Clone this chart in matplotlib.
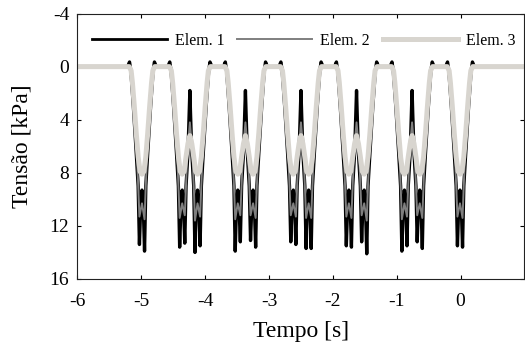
import numpy as np
import matplotlib
matplotlib.use('Agg')
import matplotlib.pyplot as plt

#------------------------------ data ------------------------------------#
# (time [s], stress [kPa]), one row per bogie
elem1 = [
    (-6.0, 0.0),
    (-5.215, 0), (-5.185, -0.35), (-5.165, 0.3), (-5.125, 3.0), (-5.08, 6.5), (-5.05, 9.0), (-5.03, 13.4), (-5.01, 10.5), (-4.99, 9.3), (-4.97, 10.5), (-4.95, 13.9), (-4.93, 9.0), (-4.90, 6.5), (-4.855, 3.0), (-4.815, 0.3), (-4.795, -0.35), (-4.765, 0),
    (-4.585, 0), (-4.555, -0.35), (-4.535, 0.3), (-4.495, 3.0), (-4.45, 6.5), (-4.42, 9.0), (-4.40, 13.6), (-4.38, 10.5), (-4.36, 9.3), (-4.34, 10.5), (-4.32, 13.3), (-4.30, 9.0), (-4.27, 6.5), (-4.25, 3.5), (-4.24, 1.8),
    (-4.23, 3.5), (-4.21, 6.5), (-4.18, 9.0), (-4.16, 14.0), (-4.14, 10.5), (-4.12, 9.3), (-4.10, 10.5), (-4.08, 13.5), (-4.06, 9.0), (-4.03, 6.5), (-3.985, 3.0), (-3.945, 0.3), (-3.925, -0.35), (-3.895, 0),
    (-3.715, 0), (-3.685, -0.35), (-3.665, 0.3), (-3.625, 3.0), (-3.58, 6.5), (-3.55, 9.0), (-3.53, 13.9), (-3.51, 10.5), (-3.49, 9.3), (-3.47, 10.5), (-3.45, 13.2), (-3.43, 9.0), (-3.40, 6.5), (-3.38, 3.5), (-3.37, 1.8),
    (-3.36, 3.5), (-3.34, 6.5), (-3.31, 9.0), (-3.29, 13.1), (-3.27, 10.5), (-3.25, 9.3), (-3.23, 10.5), (-3.21, 13.6), (-3.19, 9.0), (-3.16, 6.5), (-3.115, 3.0), (-3.075, 0.3), (-3.055, -0.35), (-3.025, 0),
    (-2.845, 0), (-2.815, -0.35), (-2.795, 0.3), (-2.755, 3.0), (-2.71, 6.5), (-2.68, 9.0), (-2.66, 13.2), (-2.64, 10.5), (-2.62, 9.3), (-2.60, 10.5), (-2.58, 13.4), (-2.56, 9.0), (-2.53, 6.5), (-2.51, 3.5), (-2.50, 1.8),
    (-2.49, 3.5), (-2.47, 6.5), (-2.44, 9.0), (-2.42, 13.7), (-2.40, 10.5), (-2.38, 9.3), (-2.36, 10.5), (-2.34, 13.7), (-2.32, 9.0), (-2.29, 6.5), (-2.245, 3.0), (-2.205, 0.3), (-2.185, -0.35), (-2.155, 0),
    (-1.975, 0), (-1.945, -0.35), (-1.925, 0.3), (-1.885, 3.0), (-1.84, 6.5), (-1.81, 9.0), (-1.79, 13.5), (-1.77, 10.5), (-1.75, 9.3), (-1.73, 10.5), (-1.71, 13.6), (-1.69, 9.0), (-1.66, 6.5), (-1.64, 3.5), (-1.63, 1.8),
    (-1.62, 3.5), (-1.60, 6.5), (-1.57, 9.0), (-1.55, 13.2), (-1.53, 10.5), (-1.51, 9.3), (-1.49, 10.5), (-1.47, 14.1), (-1.45, 9.0), (-1.42, 6.5), (-1.375, 3.0), (-1.335, 0.3), (-1.315, -0.35), (-1.285, 0),
    (-1.105, 0), (-1.075, -0.35), (-1.055, 0.3), (-1.015, 3.0), (-0.97, 6.5), (-0.94, 9.0), (-0.92, 13.9), (-0.90, 10.5), (-0.88, 9.3), (-0.86, 10.5), (-0.84, 13.5), (-0.82, 9.0), (-0.79, 6.5), (-0.77, 3.5), (-0.76, 1.8),
    (-0.75, 3.5), (-0.73, 6.5), (-0.70, 9.0), (-0.68, 13.2), (-0.66, 10.5), (-0.64, 9.3), (-0.62, 10.5), (-0.60, 13.7), (-0.58, 9.0), (-0.55, 6.5), (-0.505, 3.0), (-0.465, 0.3), (-0.445, -0.35), (-0.415, 0),
    (-0.235, 0), (-0.205, -0.35), (-0.185, 0.3), (-0.145, 3.0), (-0.10, 6.5), (-0.07, 9.0), (-0.05, 13.5), (-0.03, 10.5), (-0.01, 9.3), (0.01, 10.5), (0.03, 13.6), (0.05, 9.0), (0.08, 6.5), (0.125, 3.0), (0.165, 0.3), (0.185, -0.35), (0.215, 0),
    (1.0, 0.0),
]

elem2 = [
    (-6.0, 0.0),
    (-5.18, 0), (-5.115, 3.0), (-5.07, 6.5), (-5.045, 9.5), (-5.03, 11.3), (-4.99, 10.3), (-4.95, 11.5), (-4.935, 9.5), (-4.91, 6.5), (-4.865, 3.0), (-4.80, 0),
    (-4.55, 0), (-4.485, 3.0), (-4.44, 6.5), (-4.415, 9.5), (-4.40, 11.4), (-4.36, 10.3), (-4.32, 11.2), (-4.305, 9.5), (-4.28, 6.5), (-4.24, 4.2),
    (-4.20, 6.5), (-4.175, 9.5), (-4.16, 11.6), (-4.12, 10.3), (-4.08, 11.3), (-4.065, 9.5), (-4.04, 6.5), (-3.995, 3.0), (-3.93, 0),
    (-3.68, 0), (-3.615, 3.0), (-3.57, 6.5), (-3.545, 9.5), (-3.53, 11.5), (-3.49, 10.3), (-3.45, 11.2), (-3.435, 9.5), (-3.41, 6.5), (-3.37, 4.2),
    (-3.33, 6.5), (-3.305, 9.5), (-3.29, 11.2), (-3.25, 10.3), (-3.21, 11.4), (-3.195, 9.5), (-3.17, 6.5), (-3.125, 3.0), (-3.06, 0),
    (-2.81, 0), (-2.745, 3.0), (-2.70, 6.5), (-2.675, 9.5), (-2.66, 11.2), (-2.62, 10.3), (-2.58, 11.3), (-2.565, 9.5), (-2.54, 6.5), (-2.50, 4.2),
    (-2.46, 6.5), (-2.435, 9.5), (-2.42, 11.4), (-2.38, 10.3), (-2.34, 11.4), (-2.325, 9.5), (-2.30, 6.5), (-2.255, 3.0), (-2.19, 0),
    (-1.94, 0), (-1.875, 3.0), (-1.83, 6.5), (-1.805, 9.5), (-1.79, 11.3), (-1.75, 10.3), (-1.71, 11.4), (-1.695, 9.5), (-1.67, 6.5), (-1.63, 4.2),
    (-1.59, 6.5), (-1.565, 9.5), (-1.55, 11.2), (-1.51, 10.3), (-1.47, 11.6), (-1.455, 9.5), (-1.43, 6.5), (-1.385, 3.0), (-1.32, 0),
    (-1.07, 0), (-1.005, 3.0), (-0.96, 6.5), (-0.935, 9.5), (-0.92, 11.5), (-0.88, 10.3), (-0.84, 11.3), (-0.825, 9.5), (-0.80, 6.5), (-0.76, 4.2),
    (-0.72, 6.5), (-0.695, 9.5), (-0.68, 11.2), (-0.64, 10.3), (-0.60, 11.4), (-0.585, 9.5), (-0.56, 6.5), (-0.515, 3.0), (-0.45, 0),
    (-0.20, 0), (-0.135, 3.0), (-0.09, 6.5), (-0.065, 9.5), (-0.05, 11.3), (-0.01, 10.3), (0.03, 11.4), (0.045, 9.5), (0.07, 6.5), (0.115, 3.0), (0.18, 0),
    (1.0, 0.0),
]

elem3 = [
    (-6.0, 0.0),
    (-5.19, 0), (-5.16, 0.3), (-5.14, 1.2), (-5.11, 3.0), (-5.08, 5.0), (-5.05, 6.8), (-5.02, 7.9), (-4.99, 8.1), (-4.96, 7.9), (-4.93, 6.8), (-4.90, 5.0), (-4.87, 3.0), (-4.84, 1.2), (-4.82, 0.3), (-4.79, 0),
    (-4.56, 0), (-4.53, 0.3), (-4.51, 1.2), (-4.48, 3.0), (-4.45, 5.0), (-4.42, 6.8), (-4.39, 7.9), (-4.36, 8.1), (-4.33, 7.9), (-4.30, 6.8), (-4.27, 5.8), (-4.24, 5.2),
    (-4.21, 5.8), (-4.18, 6.8), (-4.15, 7.9), (-4.12, 8.1), (-4.09, 7.9), (-4.06, 6.8), (-4.03, 5.0), (-4.00, 3.0), (-3.97, 1.2), (-3.95, 0.3), (-3.92, 0),
    (-3.69, 0), (-3.66, 0.3), (-3.64, 1.2), (-3.61, 3.0), (-3.58, 5.0), (-3.55, 6.8), (-3.52, 7.9), (-3.49, 8.1), (-3.46, 7.9), (-3.43, 6.8), (-3.40, 5.8), (-3.37, 5.2),
    (-3.34, 5.8), (-3.31, 6.8), (-3.28, 7.9), (-3.25, 8.1), (-3.22, 7.9), (-3.19, 6.8), (-3.16, 5.0), (-3.13, 3.0), (-3.10, 1.2), (-3.08, 0.3), (-3.05, 0),
    (-2.82, 0), (-2.79, 0.3), (-2.77, 1.2), (-2.74, 3.0), (-2.71, 5.0), (-2.68, 6.8), (-2.65, 7.9), (-2.62, 8.1), (-2.59, 7.9), (-2.56, 6.8), (-2.53, 5.8), (-2.50, 5.2),
    (-2.47, 5.8), (-2.44, 6.8), (-2.41, 7.9), (-2.38, 8.1), (-2.35, 7.9), (-2.32, 6.8), (-2.29, 5.0), (-2.26, 3.0), (-2.23, 1.2), (-2.21, 0.3), (-2.18, 0),
    (-1.95, 0), (-1.92, 0.3), (-1.90, 1.2), (-1.87, 3.0), (-1.84, 5.0), (-1.81, 6.8), (-1.78, 7.9), (-1.75, 8.1), (-1.72, 7.9), (-1.69, 6.8), (-1.66, 5.8), (-1.63, 5.2),
    (-1.60, 5.8), (-1.57, 6.8), (-1.54, 7.9), (-1.51, 8.1), (-1.48, 7.9), (-1.45, 6.8), (-1.42, 5.0), (-1.39, 3.0), (-1.36, 1.2), (-1.34, 0.3), (-1.31, 0),
    (-1.08, 0), (-1.05, 0.3), (-1.03, 1.2), (-1.00, 3.0), (-0.97, 5.0), (-0.94, 6.8), (-0.91, 7.9), (-0.88, 8.1), (-0.85, 7.9), (-0.82, 6.8), (-0.79, 5.8), (-0.76, 5.2),
    (-0.73, 5.8), (-0.70, 6.8), (-0.67, 7.9), (-0.64, 8.1), (-0.61, 7.9), (-0.58, 6.8), (-0.55, 5.0), (-0.52, 3.0), (-0.49, 1.2), (-0.47, 0.3), (-0.44, 0),
    (-0.21, 0), (-0.18, 0.3), (-0.16, 1.2), (-0.13, 3.0), (-0.10, 5.0), (-0.07, 6.8), (-0.04, 7.9), (-0.01, 8.1), (0.02, 7.9), (0.05, 6.8), (0.08, 5.0), (0.11, 3.0), (0.14, 1.2), (0.16, 0.3), (0.19, 0),
    (1.0, 0.0),
]

labels = ['Elem. 1', 'Elem. 2', 'Elem. 3']
x_ticks = [-6, -5, -4, -3, -2, -1, 0]
y_ticks = [-4, 0, 4, 8, 12, 16]

#------------------------------ plot ------------------------------------#
plt.rcParams['font.family'] = ['Liberation Serif', 'DejaVu Serif']
plt.rcParams['axes.unicode_minus'] = False

fig = plt.figure(figsize=(5.25, 3.47), dpi=100)
ax = fig.add_axes([0.1476, 0.196, 0.8514, 0.765])

styles = [('black', 2.4), ('#7f7f7f', 1.4), ('#d8d5cf', 3.6)]
for data, lab, (col, lw) in zip([elem1, elem2, elem3], labels, styles):
    arr = np.array(data)
    ax.plot(arr[:, 0], arr[:, 1], color=col, lw=lw, label=lab, solid_joinstyle='round')

ax.set_xlim(-6, 1)
ax.set_ylim(16, -4)
ax.set_xticks(x_ticks)
ax.set_yticks(y_ticks)
ax.tick_params(direction='in', length=3, width=0.8, top=True, right=True, labelsize=14)
ax.tick_params(axis='x', pad=10)
ax.tick_params(axis='y', pad=6)
for sp in ax.spines.values():
    sp.set_linewidth(0.8)
    sp.set_color('#222222')

ax.set_xlabel('Tempo [s]', fontsize=17, labelpad=8)
ax.set_ylabel('Tensão [kPa]', fontsize=17, labelpad=12)

leg = ax.legend(ncol=3, loc='center left', bbox_to_anchor=(0.032, 0.898), frameon=False,
                fontsize=11.5, handlelength=4.7, handletextpad=0.5, columnspacing=0.8,
                borderpad=0, borderaxespad=0)
for h, (col, lw) in zip(leg.get_lines(), styles):
    h.set_linewidth(min(lw, 2.0) if col == 'black' else lw)

fig.savefig('out.png', dpi=100)
